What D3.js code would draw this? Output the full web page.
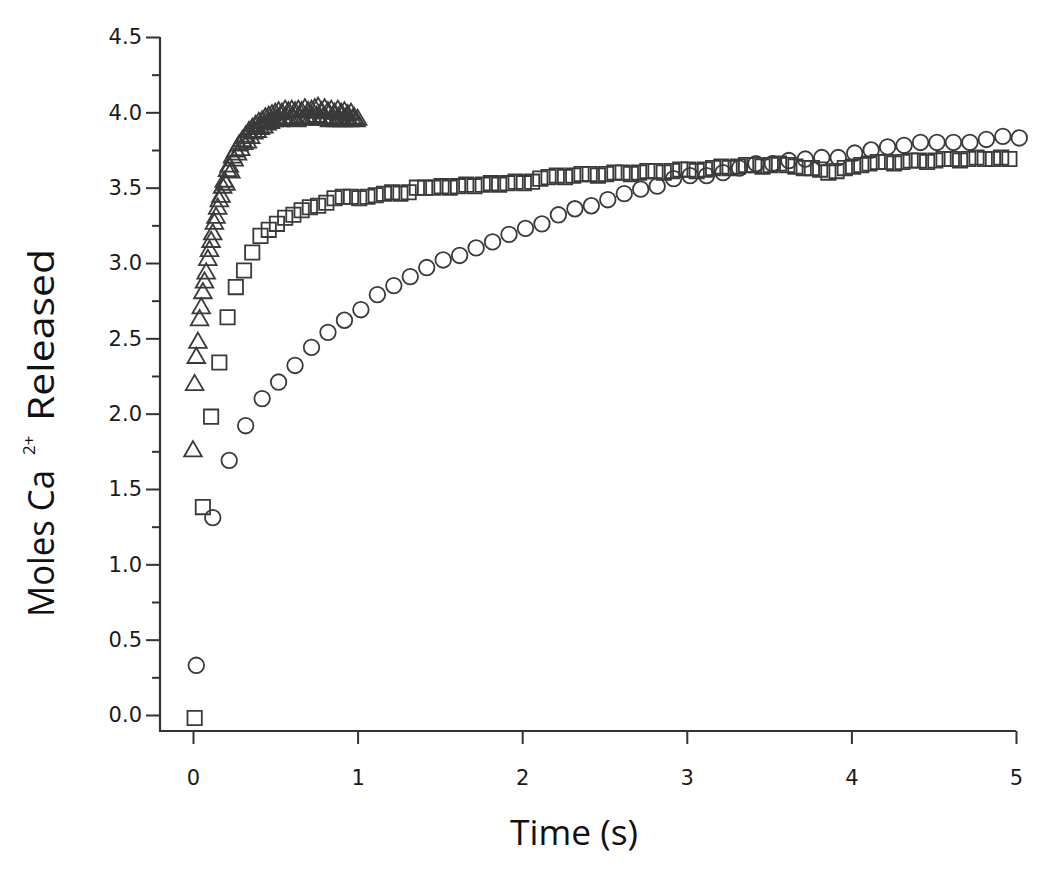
<!DOCTYPE html>
<html>
<head>
<meta charset="utf-8">
<script src="https://cdn.jsdelivr.net/npm/d3@7"></script>
<style>
  html, body { margin: 0; padding: 0; background: #fff; }
  svg { display: block; }
</style>
</head>
<body>
<svg id="chart" width="1050" height="878"></svg>
<script>
// ---------- data ----------
const yTicks = [0.0, 0.5, 1.0, 1.5, 2.0, 2.5, 3.0, 3.5, 4.0, 4.5];
const yMinorTicks = [0.25, 0.75, 1.25, 1.75, 2.25, 2.75, 3.25, 3.75, 4.25];
const xTicks = [0, 1, 2, 3, 4, 5];

// circles: time (s) and moles released
const circleTime = [0.02,0.12,0.22,0.32,0.42,0.52,0.62,0.72,0.82,0.92,1.02,1.12,1.22,1.32,1.42,1.52,1.62,1.72,1.82,1.92,2.02,2.12,2.22,2.32,2.42,2.52,2.62,2.72,2.82,2.92,3.02,3.12,3.22,3.32,3.42,3.52,3.62,3.72,3.82,3.92,4.02,4.12,4.22,4.32,4.42,4.52,4.62,4.72,4.82,4.92,5.02];
const circleValues = [0.33,1.31,1.69,1.92,2.10,2.21,2.32,2.44,2.54,2.62,2.69,2.79,2.85,2.91,2.97,3.02,3.05,3.10,3.14,3.19,3.23,3.26,3.32,3.36,3.38,3.42,3.46,3.49,3.51,3.56,3.58,3.58,3.60,3.63,3.66,3.66,3.68,3.69,3.70,3.70,3.73,3.75,3.77,3.78,3.80,3.80,3.80,3.80,3.82,3.84,3.83];

// squares
const squareTime = [0.01,0.06,0.11,0.16,0.21,0.26,0.31,0.36,0.41,0.46,0.51,0.56,0.61,0.66,0.71,0.76,0.81,0.86,0.91,0.96,1.01,1.06,1.11,1.16,1.21,1.26,1.31,1.36,1.41,1.46,1.51,1.56,1.61,1.66,1.71,1.76,1.81,1.86,1.91,1.96,2.01,2.06,2.11,2.16,2.21,2.26,2.31,2.36,2.41,2.46,2.51,2.56,2.61,2.66,2.71,2.76,2.81,2.86,2.91,2.96,3.01,3.06,3.11,3.16,3.21,3.26,3.31,3.36,3.41,3.46,3.51,3.56,3.61,3.66,3.71,3.76,3.81,3.86,3.91,3.96,4.01,4.06,4.11,4.16,4.21,4.26,4.31,4.36,4.41,4.46,4.51,4.56,4.61,4.66,4.71,4.76,4.81,4.86,4.91,4.96];
const squareValues = [-0.02,1.38,1.98,2.34,2.64,2.84,2.95,3.07,3.18,3.22,3.26,3.30,3.32,3.35,3.37,3.38,3.40,3.43,3.44,3.44,3.43,3.44,3.45,3.46,3.47,3.46,3.47,3.50,3.50,3.50,3.51,3.50,3.51,3.52,3.51,3.52,3.53,3.52,3.53,3.54,3.53,3.54,3.56,3.57,3.58,3.57,3.58,3.59,3.59,3.58,3.59,3.60,3.60,3.59,3.60,3.61,3.61,3.60,3.61,3.62,3.62,3.61,3.62,3.63,3.64,3.63,3.64,3.65,3.65,3.64,3.65,3.66,3.65,3.64,3.63,3.63,3.62,3.60,3.61,3.63,3.64,3.65,3.66,3.67,3.67,3.66,3.67,3.68,3.68,3.67,3.68,3.69,3.69,3.68,3.69,3.70,3.69,3.69,3.70,3.69];

// triangles
const triangleTime = [0.00,0.01,0.02,0.03,0.04,0.05,0.06,0.07,0.08,0.09,0.10,0.11,0.12,0.13,0.14,0.15,0.16,0.17,0.18,0.19,0.20,0.21,0.22,0.23,0.24,0.25,0.26,0.27,0.28,0.29,0.30,0.31,0.32,0.33,0.34,0.35,0.36,0.37,0.38,0.39,0.40,0.41,0.42,0.43,0.44,0.45,0.46,0.47,0.48,0.49,0.50,0.51,0.52,0.53,0.54,0.55,0.56,0.57,0.58,0.59,0.60,0.61,0.62,0.63,0.64,0.65,0.66,0.67,0.68,0.69,0.70,0.71,0.72,0.73,0.74,0.75,0.76,0.77,0.78,0.79,0.80,0.81,0.82,0.83,0.84,0.85,0.86,0.87,0.88,0.89,0.90,0.91,0.92,0.93,0.94,0.95,0.96,0.97,0.98,0.99,1.00];
const triangleValues = [1.75,2.19,2.37,2.47,2.62,2.70,2.80,2.87,2.93,3.02,3.08,3.14,3.19,3.26,3.30,3.36,3.41,3.44,3.50,3.54,3.52,3.61,3.64,3.60,3.70,3.68,3.74,3.72,3.78,3.75,3.81,3.79,3.84,3.80,3.87,3.83,3.89,3.86,3.91,3.87,3.93,3.89,3.94,3.90,3.96,3.92,3.97,3.93,3.98,3.94,3.99,3.95,4.00,3.94,3.99,3.95,4.01,3.96,4.00,3.95,4.01,3.96,4.00,3.94,4.01,3.96,4.00,3.95,4.02,3.96,4.00,3.95,4.01,3.96,4.02,3.97,4.03,3.95,4.00,3.96,4.02,3.95,4.00,3.94,4.01,3.96,3.99,3.94,4.01,3.95,3.99,3.94,4.00,3.95,3.98,3.94,3.99,3.95,3.96,3.94,3.95];

// ---------- drawing ----------
const ink = "#333";
const svg = d3.select("#chart");
const x = d3.scaleLinear().domain([0, 5]).range([193, 1016]);
const y = d3.scaleLinear().domain([0, 4.5]).range([715, 37]);
const axisLeftX = 160, axisBottomY = 731;

// y axis (major with labels, minor without)
const gy = svg.append("g").attr("transform", `translate(${axisLeftX},0)`);
gy.call(d3.axisLeft(y).tickValues(yTicks).tickFormat(d3.format(".1f")).tickSize(14).tickSizeOuter(0).tickPadding(4));
const gyMinor = svg.append("g").attr("transform", `translate(${axisLeftX},0)`);
gyMinor.call(d3.axisLeft(y).tickValues(yMinorTicks).tickFormat("").tickSize(8).tickSizeOuter(0));

// x axis
const gx = svg.append("g").attr("transform", `translate(0,${axisBottomY})`);
gx.call(d3.axisBottom(x).tickValues(xTicks).tickFormat(d3.format("d")).tickSize(13).tickSizeOuter(0).tickPadding(26));

[gy, gyMinor, gx].forEach(g => {
  g.select(".domain").remove();
  g.selectAll(".tick line").attr("stroke", ink).attr("stroke-width", 2);
  g.selectAll(".tick text").attr("fill", "#1a1a1a").style("font-family", "DejaVu Sans, Verdana, sans-serif").style("font-size", "21px");
});

// axis lines
svg.append("path")
  .attr("d", `M${axisLeftX},${y(4.5)}V${axisBottomY}H${x(5)}`)
  .attr("fill", "none").attr("stroke", ink).attr("stroke-width", 2.2);

// markers
const plot = svg.append("g").attr("fill", "none").attr("stroke", "#3a3a3a").attr("stroke-width", 1.8);

plot.selectAll("path.circ").data(circleTime.map((t, i) => [t, circleValues[i]]))
  .join("path").attr("class", "circ")
  .attr("transform", d => `translate(${x(d[0])},${y(d[1])})`)
  .attr("d", d3.symbol(d3.symbolCircle, 190)());

plot.selectAll("path.sq").data(squareTime.map((t, i) => [t, squareValues[i]]))
  .join("path").attr("class", "sq")
  .attr("transform", d => `translate(${x(d[0])},${y(d[1])})`)
  .attr("d", d3.symbol(d3.symbolSquare, 205)());

plot.selectAll("path.tri").data(triangleTime.map((t, i) => [t, triangleValues[i]]))
  .join("path").attr("class", "tri")
  .attr("transform", d => `translate(${x(d[0])},${y(d[1])})`)
  .attr("d", d3.symbol(d3.symbolTriangle, 135)());

// axis titles
const titleFont = "'Open Sans', 'Liberation Sans', sans-serif";
svg.append("text")
  .attr("x", 510).attr("y", 845)
  .attr("textLength", 128).attr("lengthAdjust", "spacingAndGlyphs")
  .style("font-family", titleFont).style("font-size", "35px").attr("fill", "#111")
  .text("Time (s)");

svg.append("text")
  .attr("transform", "translate(54,617) rotate(-90)")
  .attr("textLength", 147).attr("lengthAdjust", "spacingAndGlyphs")
  .style("font-family", titleFont).style("font-size", "36px").attr("fill", "#111")
  .text("Moles Ca");

svg.append("text")
  .attr("transform", "translate(35,455) rotate(-90)")
  .style("font-family", titleFont).style("font-size", "17px").attr("fill", "#111")
  .text("2+");

svg.append("text")
  .attr("transform", "translate(54,421) rotate(-90)")
  .attr("textLength", 172).attr("lengthAdjust", "spacingAndGlyphs")
  .style("font-family", titleFont).style("font-size", "36px").attr("fill", "#111")
  .text("Released");
</script>
</body>
</html>
